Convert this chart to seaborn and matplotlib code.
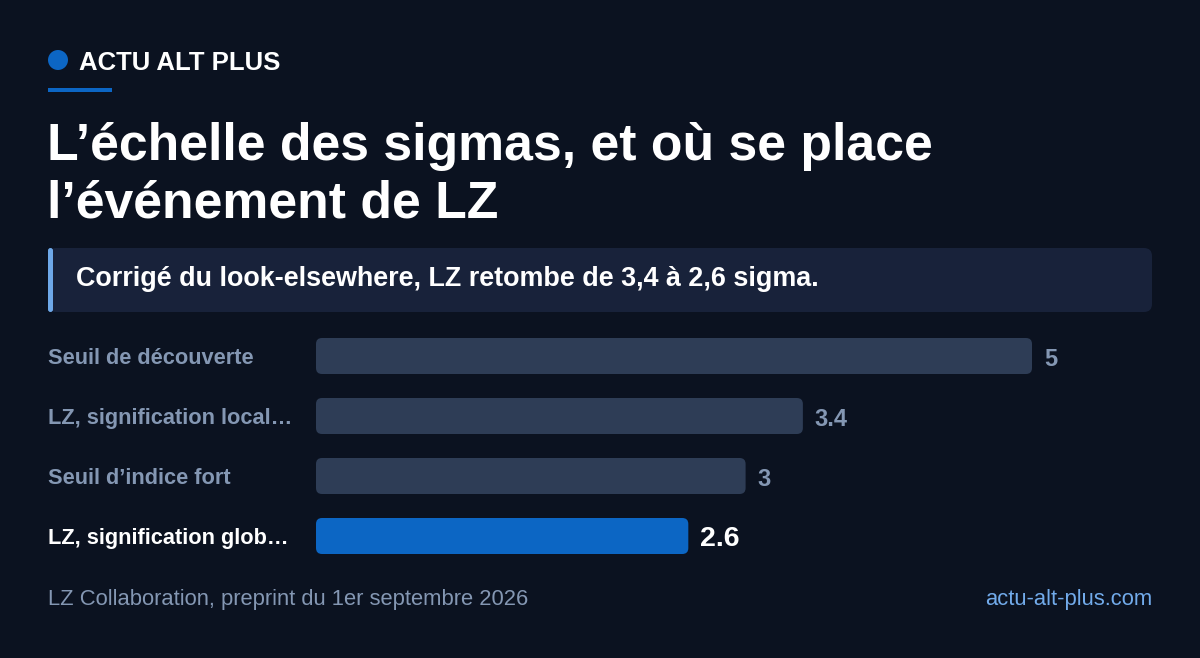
import matplotlib
matplotlib.use("Agg")
import matplotlib.pyplot as plt
from matplotlib.patches import FancyBboxPatch, Ellipse, Rectangle
import pandas as pd
import seaborn as sns

# data
categories = ["Seuil de découverte", "LZ, signification local…",
              "Seuil d’indice fort", "LZ, signification glob…"]
sigmas = [5, 3.4, 3, 2.6]
value_labels = ["5", "3.4", "3", "2.6"]
highlight = [False, False, False, True]

BG = "#0b1220"
BAR = "#2e3d56"
BLUE = "#0c66c4"
MUTED = "#8497b3"
W, H = 1200, 658

sns.set_theme(style="white")
plt.rcParams["font.family"] = ["Liberation Sans", "DejaVu Sans"]

df = pd.DataFrame({"cat": categories, "val": sigmas,
                   "hl": ["oui" if h else "non" for h in highlight]})

fig = plt.figure(figsize=(12, 6.58), dpi=100, facecolor=BG)

def fx(px):
    return px / W

def fy(py):
    return 1 - py / H

# bar axes: x 316..1032 for 0..5, rows 60px apart
ax = fig.add_axes([fx(316), fy(566), fx(1032 - 316), (566 - 326) / H])
ax.set_facecolor(BG)
sns.barplot(data=df, y="cat", x="val", hue="hl", orient="h",
            palette={"non": BAR, "oui": BLUE}, width=0.6, saturation=1,
            dodge=False, legend=False, ax=ax)
ax.set_xlim(0, 5)
ax.set_ylim(3.5, -0.5)
for s in ax.spines.values():
    s.set_visible(False)
ax.set_xticks([])
ax.set_xlabel("")
ax.set_ylabel("")

# rounded corners
px_x = (1032 - 316) / 5
px_y = 60
r = 6
for p in list(ax.patches):
    x0, y0, w, h = p.get_x(), p.get_y(), p.get_width(), p.get_height()
    fc = p.get_facecolor()
    p.remove()
    if w <= 0:
        continue
    ax.add_patch(FancyBboxPatch((x0, y0), w, h,
                                boxstyle=f"round,pad=0,rounding_size={r / px_x}",
                                mutation_aspect=(r / px_y) / (r / px_x),
                                facecolor=fc, edgecolor="none"))

ax.tick_params(axis="y", length=0, pad=(316 - 48) * 0.72)
ax.set_yticks(range(len(categories)))
ax.set_yticklabels(categories)
for lab, h in zip(ax.get_yticklabels(), highlight):
    lab.set_horizontalalignment("left")
    lab.set_fontsize(15.7)
    lab.set_fontweight("bold")
    lab.set_color("white" if h else MUTED)

for i, (v, t, h) in enumerate(zip(sigmas, value_labels, highlight)):
    ax.text(v + 12 / px_x, i + 0.05, t, va="center", ha="left",
            fontsize=20.5 if h else 17, fontweight="bold",
            color="white" if h else MUTED, clip_on=False)

# header
fig.patches.append(Ellipse((fx(58), fy(60)), 20 / W, 20 / H,
                           transform=fig.transFigure,
                           facecolor=BLUE, edgecolor="none"))
fig.patches.append(Rectangle((fx(48), fy(92)), fx(64), 4 / H,
                             transform=fig.transFigure,
                             facecolor=BLUE, edgecolor="none"))
fig.text(fx(79), fy(63), "ACTU ALT PLUS", fontsize=18.5, fontweight="bold",
         color="white", va="center", ha="left")

fig.text(fx(47), fy(160), "L’échelle des sigmas, et où se place",
         fontsize=37.3, fontweight="bold", color="white", va="baseline")
fig.text(fx(47), fy(218), "l’événement de LZ",
         fontsize=37.3, fontweight="bold", color="white", va="baseline")

# callout
fig.patches.append(FancyBboxPatch((fx(48), fy(312)), fx(1152 - 48), 64 / H,
                                  boxstyle=f"round,pad=0,rounding_size={8 / W}",
                                  mutation_aspect=W / H,
                                  transform=fig.transFigure,
                                  facecolor="#18223a", edgecolor="none"))
fig.patches.append(FancyBboxPatch((fx(48), fy(312)), fx(5), 64 / H,
                                  boxstyle=f"round,pad=0,rounding_size={2.5 / W}",
                                  mutation_aspect=W / H,
                                  transform=fig.transFigure,
                                  facecolor="#6ea8e8", edgecolor="none"))
fig.text(fx(76), fy(279), "Corrigé du look-elsewhere, LZ retombe de 3,4 à 2,6 sigma.",
         fontsize=19.4, fontweight="bold", color="white", va="center")

# footer
fig.text(fx(48), fy(599), "LZ Collaboration, preprint du 1er septembre 2026",
         fontsize=15.8, color=MUTED, va="center")
fig.text(fx(1152), fy(599), "actu-alt-plus.com",
         fontsize=15.8, color="#72abeb", va="center", ha="right")

fig.savefig("out.png", dpi=100, facecolor=BG)
